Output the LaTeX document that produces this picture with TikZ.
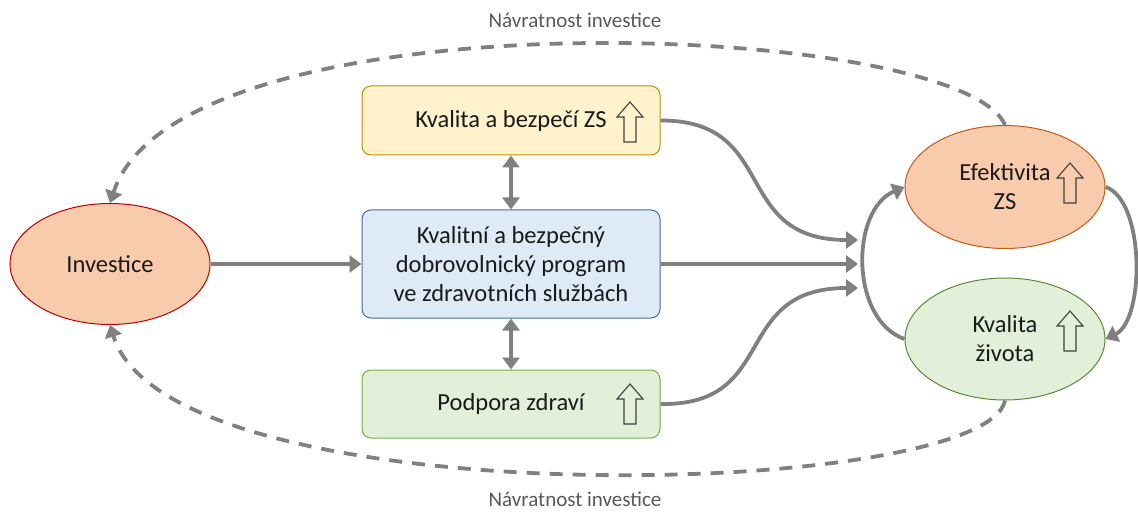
\documentclass[tikz,border=0pt]{standalone}
\usepackage{fontspec}
\setmainfont{Carlito}
\usetikzlibrary{arrows.meta,shapes.geometric}

\definecolor{conn}{HTML}{808080}
\definecolor{peach}{HTML}{F8CBAD}
\definecolor{cream}{HTML}{FFF2CC}
\definecolor{gold}{HTML}{BF9000}
\definecolor{paleblue}{HTML}{DEEBF7}
\definecolor{steel}{HTML}{41719C}
\definecolor{palegreen}{HTML}{E2F0D9}
\definecolor{leaf}{HTML}{70AD47}
\definecolor{brick}{HTML}{C55A11}
\definecolor{txt}{HTML}{1A1A1A}
\definecolor{labelgray}{HTML}{595959}

\tikzset{
  maintext/.style={font=\fontsize{24.5}{29}\selectfont, text=txt, align=center},
  roundbox/.style={rectangle, rounded corners=9pt, line width=1pt,
    minimum width=298pt, inner sep=0pt, maintext},
  oval/.style={ellipse, line width=1pt, minimum width=200pt, inner sep=0pt, maintext},
  flow/.style={draw=conn, line width=3.8pt, -{Triangle[length=12pt,width=17pt]}},
  twoway/.style={draw=conn, line width=3.8pt,
    {Triangle[length=12pt,width=17pt]}-{Triangle[length=12pt,width=17pt]}},
  roi/.style={draw=conn, line width=3.8pt, dash pattern=on 13pt off 10pt,
    -{Triangle[length=12pt,width=17pt]}},
  roilabel/.style={font=\fontsize{21}{24}\selectfont, text=labelgray, inner sep=1pt},
  % hollow block arrow pointing up (y axis runs downwards)
  uparr/.pic={
    \draw[line width=1.1pt, draw=black!75]
      (-6,20) -- (-6,-5) -- (-13,-5) -- (0,-20) -- (13,-5) -- (6,-5) -- (6,20) -- cycle;
  }
}

\begin{document}
\begin{tikzpicture}[x=1pt, y=-1pt]
  \useasboundingbox (0,0) rectangle (1138,513);

  % nodes
  \node[oval, fill=peach, draw=red!75!black, minimum height=121pt] (inv) at (110,264) {Investice};
  \node[roundbox, fill=cream, draw=gold, minimum height=69pt] (kb) at (511,120.5) {Kvalita a bezpečí ZS};
  \node[roundbox, fill=paleblue, draw=steel, minimum height=108pt] (prog) at (511,264)
    {Kvalitní a bezpečný\\dobrovolnický program\\ve zdravotních službách};
  \node[roundbox, fill=palegreen, draw=leaf, minimum height=68pt] (pz) at (511,404) {Podpora zdraví};
  \node[oval, fill=peach, draw=brick, minimum height=123pt] (ef) at (1005,187) {Efektivita\\ZS};
  \node[oval, fill=palegreen, draw=leaf!80!black, minimum height=122pt] (kz) at (1005,339) {Kvalita\\života};

  % rising indicators
  \pic at (630,122) {uparr};
  \pic at (630,404) {uparr};
  \pic at (1070,183) {uparr};
  \pic at (1070,331) {uparr};

  % arrow targets in front of the outcomes
  \coordinate (t1) at (858,240);
  \coordinate (t2) at (858,264);
  \coordinate (t3) at (858,288);

  % flows
  \draw[flow] (inv.east) -- (prog.west);
  \draw[twoway] (kb.south) -- (prog.north);
  \draw[twoway] (prog.south) -- (pz.north);
  \draw[flow] (kb.east) .. controls (780,120) and (730,240) .. (t1);
  \draw[flow] (prog.east) -- (t2);
  \draw[flow] (pz.east) .. controls (780,406) and (730,288) .. (t3);
  \draw[flow] (kz.west) .. controls (850,320) and (850,210) .. (ef.west);
  \draw[flow] (ef.east) .. controls (1145,200) and (1145,320) .. (kz.east);

  % return on investment loops
  \draw[roi] (ef.north) .. controls (960,20) and (180,-10) .. (inv.north);
  \draw[roi] (kz.south) .. controls (985,500) and (170,520) .. (inv.south);

  \node[roilabel] (lt) at (575,20) {Návratnost investice};
  \node[roilabel] (lb) at (575,499) {Návratnost investice};
\end{tikzpicture}
\end{document}
